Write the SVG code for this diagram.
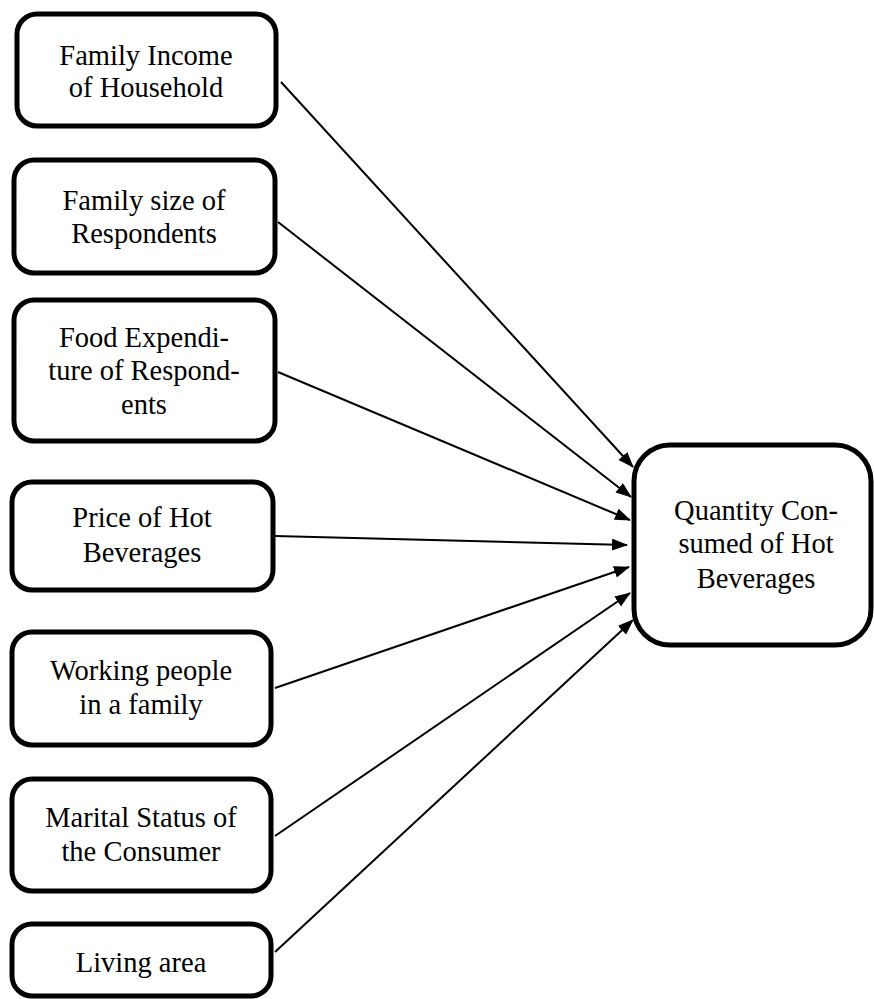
<svg xmlns="http://www.w3.org/2000/svg" width="874" height="999" viewBox="0 0 874 999">
<style>
.box{fill:#fff;stroke:#000;stroke-width:5}
.t{font-family:"Liberation Serif","Times New Roman",serif;font-size:28.5px;fill:#000;text-anchor:middle}
.c{stroke:#000;stroke-width:2;fill:none;marker-end:url(#ah)}
</style>
<defs>
<marker id="ah" viewBox="0 0 16 12" refX="15" refY="6" markerWidth="16" markerHeight="12" markerUnits="userSpaceOnUse" orient="auto">
<path d="M0,0 L16,6 L0,12 z" fill="#000"/>
</marker>
</defs>
<rect width="874" height="999" fill="#fff"/>
<g id="n1"><rect class="box" x="17" y="14" width="259" height="112" rx="20"/><text class="t" x="146" y="65">Family Income</text><text class="t" x="146" y="97">of Household</text></g>
<g id="n2"><rect class="box" x="14" y="160" width="261" height="113" rx="20"/><text class="t" x="144" y="210">Family size of</text><text class="t" x="144" y="243">Respondents</text></g>
<g id="n3"><rect class="box" x="14" y="300" width="261" height="141" rx="20"/><text class="t" x="144" y="347">Food Expendi-</text><text class="t" x="144" y="380">ture of Respond-</text><text class="t" x="144" y="414">ents</text></g>
<g id="n4"><rect class="box" x="12" y="482" width="261" height="108" rx="20"/><text class="t" x="142" y="527">Price of Hot</text><text class="t" x="142" y="562">Beverages</text></g>
<g id="n5"><rect class="box" x="12" y="632" width="259" height="113" rx="20"/><text class="t" x="141" y="680">Working people</text><text class="t" x="141" y="714">in a family</text></g>
<g id="n6"><rect class="box" x="12" y="779" width="259" height="112" rx="20"/><text class="t" x="141" y="827">Marital Status of</text><text class="t" x="141" y="861">the Consumer</text></g>
<g id="n7"><rect class="box" x="12" y="924" width="259" height="72" rx="20"/><text class="t" x="141" y="972">Living area</text></g>
<g id="n8"><rect class="box" x="634" y="445" width="237" height="200" rx="36"/><text class="t" x="756" y="520">Quantity Con-</text><text class="t" x="756" y="553">sumed of Hot</text><text class="t" x="756" y="588">Beverages</text></g>
<g id="connectors">
<line class="c" x1="281" y1="82" x2="633" y2="467"/>
<line class="c" x1="278" y1="222" x2="631" y2="497"/>
<line class="c" x1="278" y1="372" x2="630" y2="520"/>
<line class="c" x1="275" y1="536" x2="627" y2="545"/>
<line class="c" x1="275" y1="688" x2="629" y2="567"/>
<line class="c" x1="275" y1="836" x2="630" y2="593"/>
<line class="c" x1="275" y1="952" x2="633" y2="620"/>
</g>
</svg>
